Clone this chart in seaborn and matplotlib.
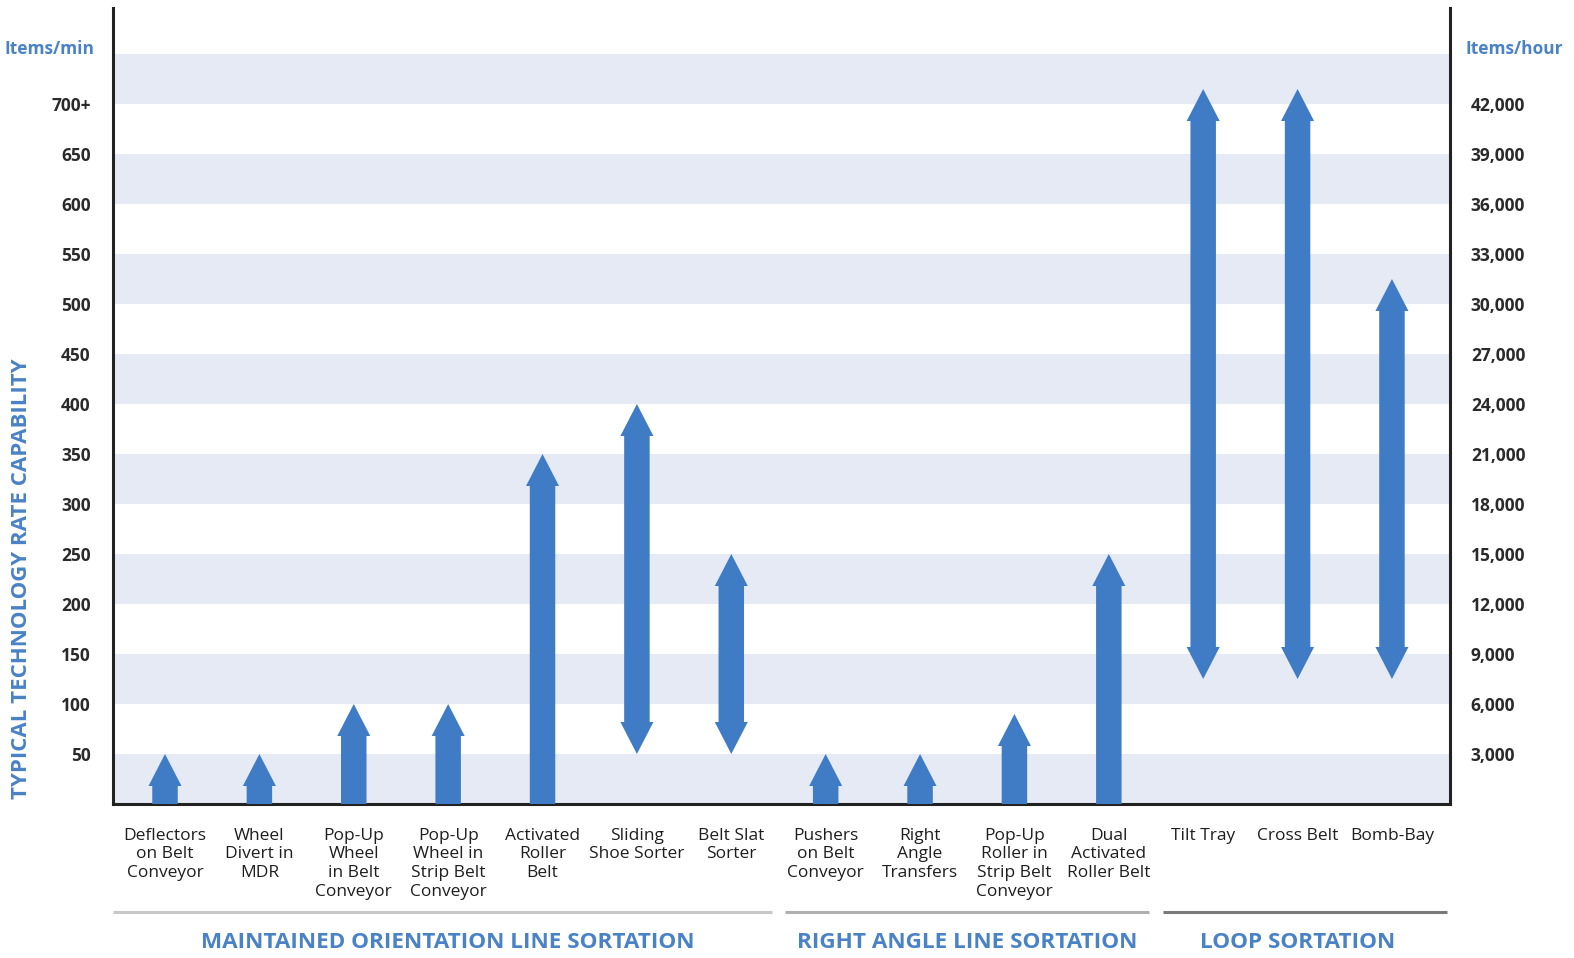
import matplotlib
matplotlib.use('Agg')
import matplotlib.pyplot as plt
import seaborn as sns
import numpy as np

# sorter technologies and their rate ranges (items/min)
technologies = ['Deflectors\non Belt\nConveyor', 'Wheel\nDivert in\nMDR', 'Pop-Up\nWheel\nin Belt\nConveyor',
                'Pop-Up\nWheel in\nStrip Belt\nConveyor', 'Activated\nRoller\nBelt', 'Sliding\nShoe Sorter',
                'Belt Slat\nSorter', 'Pushers\non Belt\nConveyor', 'Right\nAngle\nTransfers',
                'Pop-Up\nRoller in\nStrip Belt\nConveyor', 'Dual\nActivated\nRoller Belt',
                'Tilt Tray', 'Cross Belt', 'Bomb-Bay']
rate_low = [0, 0, 0, 0, 0, 50, 50, 0, 0, 0, 0, 125, 125, 125]
rate_high = [50, 50, 100, 100, 350, 400, 250, 50, 50, 90, 250, 715, 715, 525]
# double headed arrow when the low end is a real minimum
double_head = [False, False, False, False, False, True, True, False, False, False, False, True, True, True]

groups = ['MAINTAINED ORIENTATION LINE SORTATION', 'RIGHT ANGLE LINE SORTATION', 'LOOP SORTATION']
group_start = [0, 7, 11]
group_end = [6, 10, 13]
group_line_colors = ['#c8c8c8', '#b0b0b0', '#7a7a7a']

left_ticks = [50, 100, 150, 200, 250, 300, 350, 400, 450, 500, 550, 600, 650, 700]
left_labels = ['50', '100', '150', '200', '250', '300', '350', '400', '450', '500', '550', '600', '650', '700+']
right_labels = ['3,000', '6,000', '9,000', '12,000', '15,000', '18,000', '21,000', '24,000',
                '27,000', '30,000', '33,000', '36,000', '39,000', '42,000']

sns.set_style('white')
plt.rcParams['font.family'] = ['Open Sans', 'DejaVu Sans']

arrow_blue = '#3f7cc5'
label_blue = '#4a82c6'
band = '#e6eaf4'

fig = plt.figure(figsize=(15.74, 9.58), dpi=100)
ax = fig.add_axes([113 / 1574, 1 - 804 / 958, 1337 / 1574, 796 / 958])
xmin, xmax = -0.551, 13.615
ax.set_xlim(xmin, xmax)
ax.set_ylim(0, 796)

# alternating bands
for b in range(0, 750, 100):
    ax.axhspan(b, b + 50, color=band, lw=0, zorder=0)

shaft_hw = 0.135
head_hw = 0.175
head_len = 32

for i in range(len(technologies)):
    lo, hi = rate_low[i], rate_high[i]
    top_base = hi - head_len
    if double_head[i]:
        bot_base = lo + head_len
        xs = [i, i + head_hw, i + shaft_hw, i + shaft_hw, i + head_hw, i,
              i - head_hw, i - shaft_hw, i - shaft_hw, i - head_hw]
        ys = [hi, top_base, top_base, bot_base, bot_base, lo,
              bot_base, bot_base, top_base, top_base]
    else:
        xs = [i, i + head_hw, i + shaft_hw, i + shaft_hw, i - shaft_hw, i - shaft_hw, i - head_hw]
        ys = [hi, top_base, top_base, lo, lo, top_base, top_base]
    ax.fill(xs, ys, color=arrow_blue, lw=0, zorder=3)

for s in ['left', 'right', 'bottom']:
    ax.spines[s].set_visible(True)
    ax.spines[s].set_linewidth(2.2)
    ax.spines[s].set_color('#222222')
ax.spines['top'].set_visible(False)

ax.set_yticks(left_ticks)
ax.set_yticklabels(left_labels, fontsize=12.5, fontweight='bold', color='#2a2a2a')
ax.tick_params(axis='y', length=0, pad=16)
ax.set_xticks(range(len(technologies)))
ax.set_xticklabels(technologies, fontsize=12.5, color='#1e1e1e', linespacing=1.22)
ax.tick_params(axis='x', length=0, pad=17)

ax2 = ax.twinx()
ax2.set_ylim(0, 796 * 60)
ax2.set_yticks([t * 60 for t in left_ticks])
ax2.set_yticklabels(right_labels, fontsize=12.5, fontweight='bold', color='#2a2a2a')
ax2.tick_params(axis='y', length=0, pad=15)
for s in ax2.spines.values():
    s.set_visible(False)

ax.text(-0.75, 755, 'Items/min', ha='right', va='center', fontsize=12.5,
        fontweight='bold', color=label_blue)
ax.text(13.78, 755, 'Items/hour', ha='left', va='center', fontsize=12.5,
        fontweight='bold', color=label_blue)

fig.text(22 / 1574, 1 - 579 / 958, 'TYPICAL TECHNOLOGY RATE CAPABILITY', rotation=90,
         ha='center', va='center', fontsize=16, fontweight='bold', color=label_blue)

for k, (g, s, e, c) in enumerate(zip(groups, group_start, group_end, group_line_colors)):
    x0 = xmin if k == 0 else (group_end[k - 1] + s) / 2 + 0.07
    x1 = xmax - 0.03 if k == len(groups) - 1 else (e + group_start[k + 1]) / 2 - 0.07
    ax.plot([x0, x1], [-108, -108], color=c, lw=2.2, clip_on=False, solid_capstyle='butt')
    ax.text((s + e) / 2, -139, g, ha='center', va='center', fontsize=16.2,
            fontweight='bold', color=label_blue)

fig.savefig('out.png', dpi=100)
